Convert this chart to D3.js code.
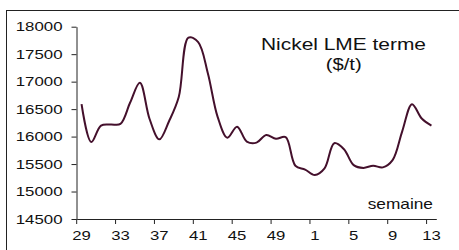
<!DOCTYPE html>
<html>
<head>
<meta charset="utf-8">
<script src="https://cdn.jsdelivr.net/npm/d3@7/dist/d3.min.js"></script>
<style>
  html, body { margin: 0; padding: 0; background: #fff; }
  svg { display: block; }
  text { font-family: "Liberation Sans", Arial, sans-serif; fill: #111; }
</style>
</head>
<body>
<svg id="chart" width="459" height="250"></svg>
<script>
const weeks = ["29","30","31","32","33","34","35","36","37","38","39","40","41","42","43","44","45","46","47","48","49","50","51","52",
               "1","2","3","4","5","6","7","8","9","10","11","12","13"];
const prices = [16590,15900,16200,16220,16230,16620,16980,16320,15950,16280,16720,17800,17720,17150,16360,15980,16180,15910,15890,16030,15960,15990,15470,15400,
                15300,15420,15880,15770,15480,15430,15470,15440,15570,16100,16590,16330,16200];
const yTicks = [14500,15000,15500,16000,16500,17000,17500,18000];
const xTickLabels = ["29","33","37","41","45","49","1","5","9","13"];
const titleLines = ["Nickel LME terme", "($/t)"];
const xTitle = "semaine";

const svg = d3.select("#chart");

// frame (extends past right/bottom edges as in the reference crop)
svg.append("rect")
  .attr("x", 6.5).attr("y", 10.5)
  .attr("width", 470).attr("height", 260)
  .attr("fill", "none").attr("stroke", "#222").attr("stroke-width", 1);

const x = d3.scaleBand().domain(weeks).range([76.7, 436.3]).padding(0);
const y = d3.scaleLinear().domain([14500, 18000]).range([219, 26.7]);
const bw = x.bandwidth();

// Y axis
const yAxis = svg.append("g")
  .attr("transform", "translate(76.5,0)")
  .call(d3.axisLeft(y).tickValues(yTicks).tickSize(5).tickSizeOuter(0).tickPadding(9).tickFormat(d3.format("d")));
yAxis.select(".domain").attr("stroke", "#222");
yAxis.selectAll(".tick line").attr("stroke", "#222");
yAxis.selectAll(".tick text")
  .attr("font-size", 12.6)
  .attr("fill", "#111")
  .attr("font-family", "Liberation Sans, Arial, sans-serif")
  .attr("textLength", d => String(d).length * 9.35)
  .attr("lengthAdjust", "spacingAndGlyphs");

// X axis
const xAxis = svg.append("g")
  .attr("transform", "translate(0,219)")
  .call(d3.axisBottom(x).tickValues(xTickLabels).tickSize(5).tickSizeOuter(0).tickPadding(7));
xAxis.select(".domain").attr("stroke", "#222");
xAxis.selectAll(".tick line").attr("stroke", "#222").attr("x1", -bw / 2).attr("x2", -bw / 2);
xAxis.selectAll(".tick text")
  .attr("font-size", 12.6)
  .attr("fill", "#111")
  .attr("font-family", "Liberation Sans, Arial, sans-serif")
  .attr("textLength", d => String(d).length * 9.3)
  .attr("lengthAdjust", "spacingAndGlyphs");

// line
const line = d3.line()
  .x((d, i) => x(weeks[i]) + bw / 2)
  .y(d => y(d))
  .curve(d3.curveCatmullRom.alpha(0.5));

svg.append("path")
  .datum(prices)
  .attr("d", line)
  .attr("fill", "none")
  .attr("stroke", "#44102c")
  .attr("stroke-width", 2);

// title (two lines)
svg.append("text")
  .attr("x", 343.5).attr("y", 49.5)
  .attr("text-anchor", "middle")
  .attr("font-size", 17)
  .attr("textLength", 165)
  .attr("lengthAdjust", "spacingAndGlyphs")
  .text(titleLines[0]);
svg.append("text")
  .attr("x", 343.7).attr("y", 69.5)
  .attr("text-anchor", "middle")
  .attr("font-size", 17)
  .attr("textLength", 36)
  .attr("lengthAdjust", "spacingAndGlyphs")
  .text(titleLines[1]);

// x title
svg.append("text")
  .attr("x", 433).attr("y", 209.3)
  .attr("text-anchor", "end")
  .attr("font-size", 14.5)
  .attr("textLength", 65.3)
  .attr("lengthAdjust", "spacingAndGlyphs")
  .text(xTitle);
</script>
</body>
</html>
